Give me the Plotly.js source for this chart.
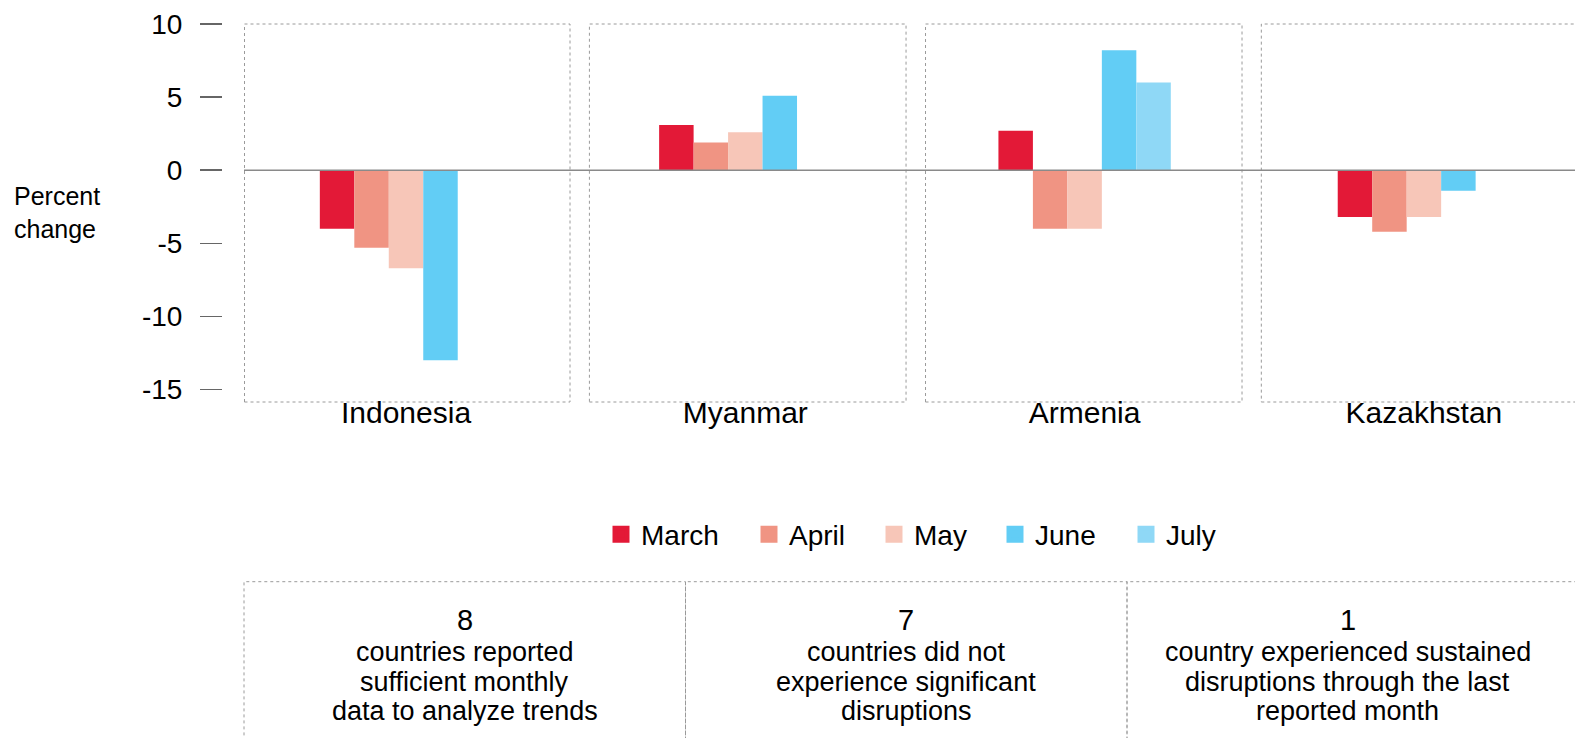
<!DOCTYPE html>
<html>
<head>
<meta charset="utf-8">
<script src="https://cdn.plot.ly/plotly-3.0.1.min.js"></script>
<style>html,body{margin:0;padding:0;background:#fff;}#chart{width:1575px;height:738px;}</style>
</head>
<body>
<div id="chart"></div>
<script>
// ---- data ----
var countries = ["Indonesia", "Myanmar", "Armenia", "Kazakhstan"];
var months = ["March", "April", "May", "June", "July"];
var march = [-4.0, 3.1, 2.7, -3.2];
var april = [-5.3, 1.9, -4.0, -4.2];
var may   = [-6.7, 2.6, -4.0, -3.2];
var june  = [-13.0, 5.1, 8.2, -1.4];
var july  = [null, null, 6.0, null];
var yTicks = [-15, -10, -5, 0, 5, 10];
var summaryNumbers = ["8", "7", "1"];
var summaryLines = [
  ["countries reported", "sufficient monthly", "data to analyze trends"],
  ["countries did not", "experience significant", "disruptions"],
  ["country experienced sustained", "disruptions through the last", "reported month"]
];

// ---- style ----
var colors = ["#E31937", "#F09483", "#F7C6B8", "#62CDF5", "#8FD8F6"];
var legendWidths = [103, 80, 76, 86, 60];
var FONT = "Liberation Sans, Arial, Helvetica, sans-serif";
var W = 1575, H = 738;
var ML = 222, MT = 24, MB = 336;
var plotW = W - ML, plotH = H - MT - MB;
function px2x(px) { return (px - ML) / plotW; }
function py2y(py) { return (MT + plotH - py) / plotH; }

var series = [march, april, may, june, july];
var traces = [];
series.forEach(function (vals, i) {
  traces.push({
    type: "bar", name: months[i], x: countries, y: vals,
    marker: { color: colors[i] }, showlegend: false, hoverinfo: "x+y+name"
  });
});
// legend entries (drawn on a hidden axis pair so they do not take bar slots)
months.forEach(function (m, i) {
  traces.push({
    type: "bar", name: m, x: [null], y: [null], xaxis: "x2", yaxis: "y2",
    marker: { color: colors[i], line: { color: colors[i], width: 7 } },
    legendwidth: legendWidths[i], showlegend: true
  });
});

var xStart = -0.4775, pxPerCat = 339.3;
var xEnd = xStart + (W - 244) / pxPerCat;
var panelEdges = [[-0.476, 0.4833], [0.5405, 1.4737], [1.5311, 2.4639], [2.5208, 3.6]];

var shapes = [];
panelEdges.forEach(function (e) {
  shapes.push({ type: "rect", xref: "x", yref: "paper", x0: e[0], x1: e[1], y0: 0, y1: 1,
    line: { color: "#9a9a9a", width: 1, dash: "dot" }, layer: "below" });
});
shapes.push({ type: "line", xref: "x", yref: "y", x0: xStart, x1: xEnd, y0: 0, y1: 0,
  line: { color: "#8a8a8a", width: 1.5 }, layer: "above" });

var boxEdges = [244, 685.5, 1127, 1590];
for (var b = 0; b < 3; b++) {
  shapes.push({ type: "rect", xref: "paper", yref: "paper",
    x0: px2x(boxEdges[b]), x1: px2x(boxEdges[b + 1]), y0: py2y(760), y1: py2y(581.7),
    line: { color: "#9a9a9a", width: 1, dash: "dot" } });
}

var annotations = [{
  xref: "paper", yref: "paper", x: px2x(12), y: py2y(212), xanchor: "left", yanchor: "middle",
  align: "left", text: "Percent<br>change", showarrow: false,
  font: { family: FONT, size: 25, color: "#000" }
}];
var lineY = [652, 681.5, 711];
for (var b2 = 0; b2 < 3; b2++) {
  var cx = px2x((boxEdges[b2] + Math.min(boxEdges[b2 + 1], 1568.5)) / 2);
  annotations.push({ xref: "paper", yref: "paper", x: cx, y: py2y(620), xanchor: "center", yanchor: "middle",
    text: summaryNumbers[b2], showarrow: false, font: { family: FONT, size: 29, color: "#000" } });
  summaryLines[b2].forEach(function (t, k) {
    annotations.push({ xref: "paper", yref: "paper", x: cx, y: py2y(lineY[k]), xanchor: "center", yanchor: "middle",
      text: t, showarrow: false, font: { family: FONT, size: 27, color: "#000" } });
  });
}

var layout = {
  width: W, height: H,
  margin: { l: ML, r: 0, t: MT, b: MB, pad: 0 },
  paper_bgcolor: "#fff", plot_bgcolor: "rgba(0,0,0,0)",
  font: { family: FONT, color: "#000" },
  barmode: "group", bargap: 0.492, bargroupgap: 0,
  showlegend: true,
  legend: {
    orientation: "h", x: px2x(601), xanchor: "left", y: py2y(534.5), yanchor: "middle",
    font: { family: FONT, size: 28, color: "#000" }, bgcolor: "rgba(0,0,0,0)", borderwidth: 0,
    traceorder: "normal"
  },
  xaxis: {
    type: "category", categoryorder: "array", categoryarray: countries,
    domain: [(244 - ML) / plotW, 1], range: [xStart, xEnd],
    showgrid: false, zeroline: false, showline: false, ticks: "",
    ticklabelstandoff: -10,
    tickfont: { family: FONT, size: 30, color: "#000" }, fixedrange: true
  },
  yaxis: {
    anchor: "free", position: 0, range: [-15.85, 10],
    tickmode: "array", tickvals: yTicks, ticktext: yTicks.map(String),
    ticks: "outside", ticklen: 22, tickwidth: 1.5, tickcolor: "#666",
    ticklabelstandoff: 12,
    showgrid: false, zeroline: false, showline: false,
    tickfont: { family: FONT, size: 28, color: "#000" }, fixedrange: true
  },
  xaxis2: { overlaying: "x", visible: false, range: [0, 1] },
  yaxis2: { overlaying: "y", visible: false, range: [0, 1] },
  shapes: shapes,
  annotations: annotations
};

Plotly.newPlot("chart", traces, layout, { displayModeBar: false, staticPlot: true });
</script>
</body>
</html>
